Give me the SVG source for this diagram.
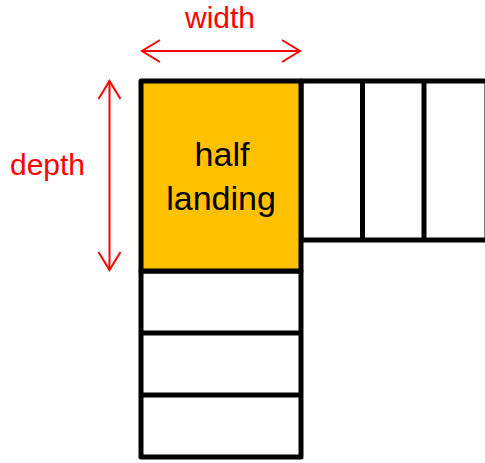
<svg xmlns="http://www.w3.org/2000/svg" width="485" height="463" viewBox="0 0 485 463">
  <style>
    .box { fill: #FFFFFF; stroke: #000000; stroke-width: 5; stroke-linejoin: round; }
    .landing { fill: #FFC000; stroke: #000000; stroke-width: 5; stroke-linejoin: round; }
    .tread { stroke: #000000; stroke-width: 5; }
    .dim { stroke: #FF0000; stroke-width: 2; fill: none; }
    .lbl { font-family: "Liberation Sans", Arial, sans-serif; font-size: 30px; fill: #FF0000; text-anchor: middle; }
    .txt { font-family: "Liberation Sans", Arial, sans-serif; font-size: 34px; fill: #000000; text-anchor: middle; }
  </style>
  <defs>
    <marker id="head" markerUnits="userSpaceOnUse" viewBox="-20 -13 22 26" refX="0" refY="0" markerWidth="22" markerHeight="26" orient="auto-start-reverse">
      <path d="M-18,-11 L0,0 L-18,11" fill="none" stroke="#FF0000" stroke-width="2"/>
    </marker>
  </defs>
  <rect width="485" height="463" fill="#FFFFFF"/>

  <g id="right-flight">
    <rect class="box" x="301" y="81" width="186" height="159"/>
    <line class="tread" x1="362.5" y1="81" x2="362.5" y2="240"/>
    <line class="tread" x1="424" y1="81" x2="424" y2="240"/>
  </g>

  <g id="lower-flight">
    <rect class="box" x="141" y="271" width="160" height="186"/>
    <line class="tread" x1="141" y1="333" x2="301" y2="333"/>
    <line class="tread" x1="141" y1="395" x2="301" y2="395"/>
  </g>

  <g id="half-landing">
    <rect class="landing" x="141" y="81" width="160" height="190"/>
    <text class="txt" x="222" y="166">half</text>
    <text class="txt" x="221" y="210">landing</text>
  </g>

  <g id="connectors">
    <line class="dim" x1="142" y1="51" x2="300" y2="51" marker-start="url(#head)" marker-end="url(#head)"/>
    <line class="dim" x1="109.5" y1="81" x2="109.5" y2="270" marker-start="url(#head)" marker-end="url(#head)"/>
  </g>

  <g id="width-label">
    <text class="lbl" x="220" y="28">width</text>
  </g>
  <g id="depth-label">
    <text class="lbl" x="47.5" y="175">depth</text>
  </g>
</svg>
